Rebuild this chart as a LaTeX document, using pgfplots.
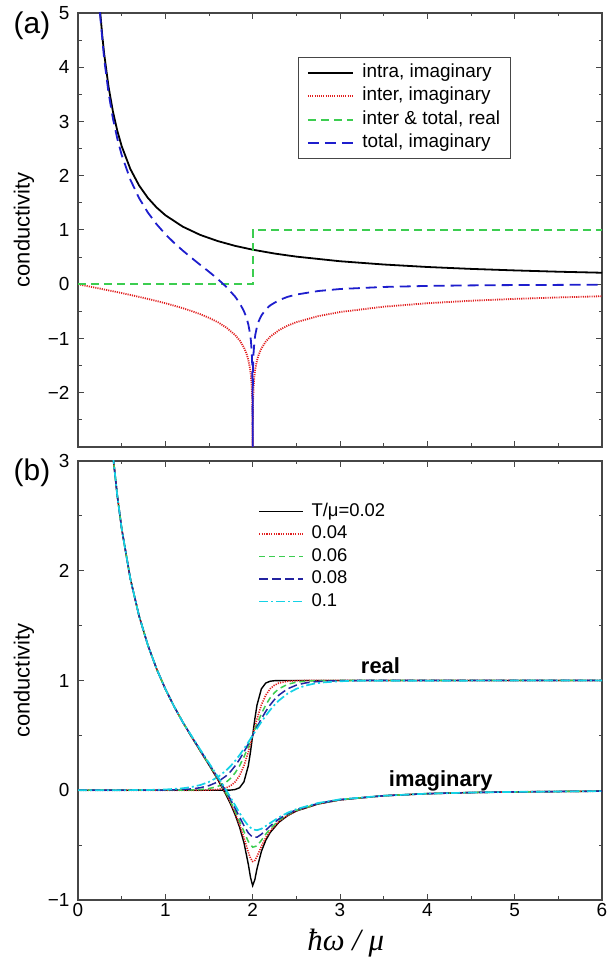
\documentclass[border=0pt]{standalone}
\usepackage{fontspec}
\setmainfont{Liberation Sans}
\newfontfamily\timesfam{Liberation Serif}
\usepackage{pgfplots}
\pgfplotsset{compat=1.18}

\definecolor{cRed}{RGB}{225,30,30}
\definecolor{cGreen}{RGB}{60,205,80}
\definecolor{cBlue}{RGB}{30,30,205}
\definecolor{cNavy}{RGB}{35,35,160}
\definecolor{cCyan}{RGB}{20,210,230}
\definecolor{frame}{RGB}{70,70,70}

\pgfplotsset{
  panel/.style={
    scale only axis, width=524bp, xmin=0, xmax=6,
    axis line style={frame, line width=1.1bp},
    tick style={frame, line width=1bp},
    tick align=inside, major tick length=6bp, minor tick length=3.5bp,
    xtick={0,1,...,6}, minor xtick={0.5,1.5,...,5.5},
    ticklabel style={font=\fontsize{19}{22}\selectfont},
    yticklabel style={xshift=-5bp},
    ylabel={conductivity},
    every axis y label/.style={at={(axis description cs:-0.103,0.5)}, rotate=90, anchor=center,
      font=\fontsize{22}{26}\selectfont},
    clip=true,
  },
}

\begin{document}
\begin{tikzpicture}
\path[use as bounding box] (0,0) rectangle (607bp,961bp);

% ---------------- (a) zero temperature ----------------
\begin{axis}[panel, at={(78bp,514bp)}, anchor=south west, height=434bp,
  ymin=-3, ymax=5,
  ytick={-2,-1,...,5}, yticklabels={−2,−1,0,1,2,3,4,5},
  minor ytick={-2.5,-1.5,...,4.5},
  xticklabels={},
  legend style={at={(0.419,0.8986)}, anchor=north west, draw=frame, line width=0.9bp,
    font=\fontsize{19}{22}\selectfont, row sep=3bp, inner xsep=9bp, inner ysep=5bp,
    nodes={inner sep=1.5bp, text height=13.5bp, text depth=4bp}, column sep=7bp},
  legend cell align=left,
  legend image code/.code={\draw[#1] (0bp,0bp) -- (45bp,0bp);},
]
\addplot[black, line width=1.8bp] coordinates {
(0.25,5.093)(0.28,4.547)(0.30,4.244)(0.35,3.638)(0.40,3.183)(0.45,2.829)(0.50,2.546)
(0.60,2.122)(0.70,1.819)(0.80,1.592)(0.90,1.415)(1.00,1.273)(1.20,1.061)(1.40,0.909)
(1.60,0.796)(1.80,0.707)(2.00,0.637)(2.25,0.566)(2.50,0.509)(3.00,0.424)(3.50,0.364)
(4.00,0.318)(4.50,0.283)(5.00,0.255)(5.50,0.231)(6.00,0.212)};
\addlegendentry{intra, imaginary}

\addplot[cRed, line width=1.8bp, dash pattern=on 1.1bp off 1.1bp] coordinates {
(0,0)(0.25,-0.080)(0.4,-0.129)(0.5,-0.163)(0.6,-0.197)(0.75,-0.251)(0.8,-0.270)(0.9,-0.309)
(1.0,-0.350)(1.1,-0.394)(1.2,-0.441)(1.3,-0.494)(1.4,-0.552)(1.5,-0.619)(1.6,-0.699)
(1.7,-0.800)(1.8,-0.937)(1.85,-1.033)(1.9,-1.166)(1.93,-1.282)(1.95,-1.391)(1.97,-1.555)
(1.98,-1.685)(1.99,-1.906)(1.995,-2.127)(1.999,-2.640)(1.9997,-3.023)(1.99996,-3.665)
(2.00004,-3.665)(2.0003,-3.023)(2.001,-2.640)(2.005,-2.128)(2.01,-1.908)(2.02,-1.688)
(2.03,-1.560)(2.05,-1.399)(2.07,-1.293)(2.1,-1.182)(2.15,-1.057)(2.2,-0.969)(2.3,-0.848)
(2.4,-0.763)(2.5,-0.699)(2.75,-0.588)(3,-0.512)(3.5,-0.414)(4,-0.350)(4.5,-0.304)
(5,-0.270)(5.5,-0.243)(6,-0.221)};
\addlegendentry{inter, imaginary}

\addplot[cGreen, line width=1.8bp, dash pattern=on 8bp off 5bp] coordinates {
(0,0)(2,0)(2,1)(6,1)};
\addlegendentry{inter \& total, real}

\addplot[cBlue, line width=1.8bp, dash pattern=on 11bp off 6bp] coordinates {
(0.25,5.013)(0.3,4.148)(0.35,3.525)(0.4,3.054)(0.45,2.684)(0.5,2.384)(0.6,1.925)(0.7,1.586)
(0.8,1.322)(0.9,1.106)(1.0,0.923)(1.1,0.764)(1.2,0.620)(1.3,0.486)(1.4,0.357)(1.5,0.230)
(1.6,0.097)(1.7,-0.051)(1.8,-0.230)(1.85,-0.345)(1.9,-0.496)(1.93,-0.622)(1.95,-0.738)
(1.97,-0.909)(1.98,-1.042)(1.99,-1.266)(1.995,-1.489)(1.999,-2.003)(1.9997,-2.386)
(1.99996,-3.028)(2.00004,-3.028)(2.0003,-2.386)(2.001,-2.004)(2.005,-1.493)(2.01,-1.275)
(2.02,-1.058)(2.03,-0.933)(2.05,-0.778)(2.07,-0.678)(2.1,-0.576)(2.15,-0.465)(2.2,-0.390)
(2.3,-0.294)(2.4,-0.232)(2.5,-0.190)(2.75,-0.125)(3,-0.088)(3.5,-0.050)(4,-0.031)
(4.5,-0.021)(5,-0.015)(5.5,-0.012)(6,-0.008)};
\addlegendentry{total, imaginary}
\end{axis}

% ---------------- (b) finite temperature ----------------
\begin{axis}[panel, at={(78bp,61bp)}, anchor=south west, height=439bp,
  ymin=-1, ymax=3,
  ytick={-1,0,...,3}, yticklabels={−1,0,1,2,3},
  minor ytick={-0.5,0.5,...,2.5},
  xticklabels={0,1,2,3,4,5,6},
  xlabel={\timesfam\itshape ħω / μ},
  every axis x label/.style={at={(axis description cs:0.511,0)}, anchor=base, yshift=-50bp,
    font=\fontsize{31}{34}\selectfont},
  legend style={at={(0.340,0.913)}, anchor=north west, draw=none, fill=none,
    font=\fontsize{18.5}{21}\selectfont, row sep=2bp, inner sep=2bp,
    nodes={inner sep=1.5bp, text height=13.5bp, text depth=4bp}, column sep=6bp},
  legend cell align=left,
  legend image code/.code={\draw[#1] (0bp,0bp) -- (44bp,0bp);},
]
% real parts
\addplot[black, line width=1.4bp] coordinates {
(0,0)(1.6,0)(1.7,0.0006)(1.75,0.0019)(1.8,0.0067)(1.85,0.0230)(1.9,0.0759)(1.95,0.2227)
(1.975,0.3487)(2.0,0.5)(2.025,0.6513)(2.05,0.7773)(2.1,0.9241)(2.15,0.9770)(2.2,0.9933)
(2.25,0.9981)(2.3,0.9994)(2.4,1)(6,1)};
\addlegendentry{T/μ=0.02}
\addplot[cRed, line width=1.6bp, dash pattern=on 1.2bp off 1.2bp] coordinates {
(0,0)(1.4,0)(1.5,0.0019)(1.6,0.0067)(1.7,0.0230)(1.75,0.0421)(1.8,0.0759)(1.85,0.1330)
(1.9,0.2227)(1.95,0.3487)(2.0,0.5)(2.05,0.6513)(2.1,0.7773)(2.15,0.8670)(2.2,0.9241)
(2.25,0.9579)(2.3,0.9770)(2.4,0.9933)(2.5,0.9981)(2.6,1)(6,1)};
\addlegendentry{0.04}
\addplot[cGreen, line width=1.5bp, dash pattern=on 6bp off 4bp] coordinates {
(0,0)(1.1,0)(1.2,0.0013)(1.3,0.0029)(1.4,0.0067)(1.5,0.0153)(1.6,0.0344)(1.7,0.0759)
(1.75,0.1107)(1.8,0.1589)(1.85,0.2227)(1.9,0.3029)(1.95,0.3973)(2.0,0.5)(2.05,0.6027)
(2.1,0.6971)(2.15,0.7773)(2.2,0.8411)(2.25,0.8893)(2.3,0.9241)(2.4,0.9656)(2.5,0.9847)
(2.6,0.9933)(2.7,0.9971)(2.8,0.9987)(3.0,1)(6,1)};
\addlegendentry{0.06}
\addplot[cNavy, line width=1.5bp, dash pattern=on 9bp off 4bp] coordinates {
(0,0)(0.8,0)(1.0,0.0019)(1.2,0.0067)(1.3,0.0124)(1.4,0.0230)(1.5,0.0421)(1.6,0.0759)
(1.7,0.1330)(1.75,0.1733)(1.8,0.2227)(1.85,0.2814)(1.9,0.3487)(1.95,0.4225)(2.0,0.5)
(2.05,0.5775)(2.1,0.6513)(2.15,0.7186)(2.2,0.7773)(2.25,0.8267)(2.3,0.8670)(2.4,0.9241)
(2.5,0.9579)(2.6,0.9770)(2.7,0.9876)(2.8,0.9933)(3.0,0.9981)(3.2,1)(6,1)};
\addlegendentry{0.08}
\addplot[cCyan, line width=1.7bp, dash pattern=on 9bp off 3bp on 2bp off 3bp] coordinates {
(0,0)(0.5,0.0006)(0.8,0.0025)(1.0,0.0067)(1.2,0.0180)(1.3,0.0293)(1.4,0.0474)(1.5,0.0759)
(1.6,0.1192)(1.7,0.1824)(1.75,0.2227)(1.8,0.2689)(1.85,0.3208)(1.9,0.3775)(1.95,0.4378)
(2.0,0.5)(2.05,0.5622)(2.1,0.6225)(2.15,0.6792)(2.2,0.7311)(2.25,0.7773)(2.3,0.8176)
(2.4,0.8808)(2.5,0.9241)(2.6,0.9526)(2.7,0.9707)(2.8,0.9820)(3.0,0.9933)(3.2,0.9975)(6,1)};
\addlegendentry{0.1}

% imaginary parts
\addplot[black, line width=1.4bp, forget plot] coordinates {
(0.4,3.054)(0.45,2.684)(0.5,2.384)(0.6,1.925)(0.7,1.586)(0.8,1.322)(0.9,1.106)(1.0,0.923)
(1.1,0.764)(1.2,0.620)(1.3,0.487)(1.4,0.358)(1.5,0.230)(1.6,0.098)(1.7,-0.049)(1.75,-0.131)
(1.8,-0.225)(1.85,-0.336)(1.9,-0.477)(1.95,-0.674)(1.975,-0.794)(2.0,-0.869)(2.025,-0.814)
(2.05,-0.713)(2.1,-0.557)(2.15,-0.456)(2.2,-0.386)(2.3,-0.292)(2.4,-0.232)(2.5,-0.189)
(2.75,-0.125)(3.0,-0.088)(3.5,-0.050)(4,-0.031)(4.5,-0.021)(5,-0.015)(6,-0.008)};
\addplot[cRed, line width=1.6bp, dash pattern=on 1.2bp off 1.2bp, forget plot] coordinates {
(0.4,3.054)(0.45,2.684)(0.5,2.384)(0.6,1.925)(0.7,1.586)(0.8,1.322)(0.9,1.106)(1.0,0.923)
(1.1,0.764)(1.2,0.620)(1.3,0.487)(1.4,0.359)(1.5,0.233)(1.6,0.101)(1.7,-0.042)(1.75,-0.122)
(1.8,-0.211)(1.85,-0.313)(1.9,-0.432)(1.95,-0.564)(1.975,-0.620)(2.0,-0.649)(2.025,-0.640)
(2.05,-0.603)(2.1,-0.511)(2.15,-0.433)(2.2,-0.372)(2.3,-0.285)(2.4,-0.228)(2.5,-0.187)
(2.75,-0.124)(3.0,-0.087)(3.5,-0.050)(4,-0.031)(4.5,-0.021)(5,-0.015)(6,-0.008)};
\addplot[cGreen, line width=1.5bp, dash pattern=on 6bp off 4bp, forget plot] coordinates {
(0.4,3.054)(0.45,2.684)(0.5,2.384)(0.6,1.925)(0.7,1.586)(0.8,1.322)(0.9,1.106)(1.0,0.923)
(1.1,0.764)(1.2,0.620)(1.3,0.490)(1.4,0.362)(1.5,0.236)(1.6,0.107)(1.7,-0.032)(1.75,-0.108)
(1.8,-0.191)(1.85,-0.280)(1.9,-0.376)(1.95,-0.467)(2.0,-0.519)(2.05,-0.507)(2.1,-0.456)
(2.15,-0.400)(2.2,-0.351)(2.3,-0.275)(2.4,-0.222)(2.5,-0.183)(2.75,-0.122)(3.0,-0.086)
(3.5,-0.050)(4,-0.031)(4.5,-0.021)(5,-0.015)(6,-0.008)};
\addplot[cNavy, line width=1.5bp, dash pattern=on 9bp off 4bp, forget plot] coordinates {
(0.4,3.054)(0.45,2.684)(0.5,2.384)(0.6,1.925)(0.7,1.586)(0.8,1.322)(0.9,1.106)(1.0,0.923)
(1.1,0.764)(1.2,0.620)(1.3,0.492)(1.4,0.366)(1.5,0.242)(1.6,0.115)(1.7,-0.019)(1.75,-0.090)
(1.8,-0.166)(1.85,-0.244)(1.9,-0.322)(1.95,-0.389)(2.0,-0.428)(2.05,-0.428)(2.1,-0.401)
(2.15,-0.364)(2.2,-0.326)(2.3,-0.262)(2.4,-0.214)(2.5,-0.178)(2.75,-0.120)(3.0,-0.085)
(3.5,-0.050)(4,-0.031)(4.5,-0.021)(5,-0.015)(6,-0.008)};
\addplot[cCyan, line width=1.7bp, dash pattern=on 9bp off 3bp on 2bp off 3bp, forget plot] coordinates {
(0.4,3.054)(0.45,2.684)(0.5,2.384)(0.6,1.925)(0.7,1.586)(0.8,1.322)(0.9,1.106)(1.0,0.923)
(1.1,0.764)(1.2,0.620)(1.3,0.496)(1.4,0.370)(1.5,0.248)(1.6,0.125)(1.7,-0.003)(1.75,-0.070)
(1.8,-0.138)(1.85,-0.207)(1.9,-0.271)(1.95,-0.324)(2.0,-0.357)(2.05,-0.364)(2.1,-0.351)
(2.15,-0.326)(2.2,-0.299)(2.3,-0.247)(2.4,-0.205)(2.5,-0.172)(2.75,-0.116)(3.0,-0.083)
(3.5,-0.050)(4,-0.031)(4.5,-0.021)(5,-0.015)(6,-0.008)};

\node[anchor=base west, font=\bfseries\fontsize{22}{26}\selectfont] at (axis cs:3.2,1.06) {real};
\node[anchor=base west, font=\bfseries\fontsize{22}{26}\selectfont] at (axis cs:3.52,0.03) {imaginary};
\end{axis}

\node[font=\fontsize{30}{34}\selectfont] at (32bp,935bp) {(a)};
\node[font=\fontsize{30}{34}\selectfont] at (32bp,488bp) {(b)};
\end{tikzpicture}
\end{document}
